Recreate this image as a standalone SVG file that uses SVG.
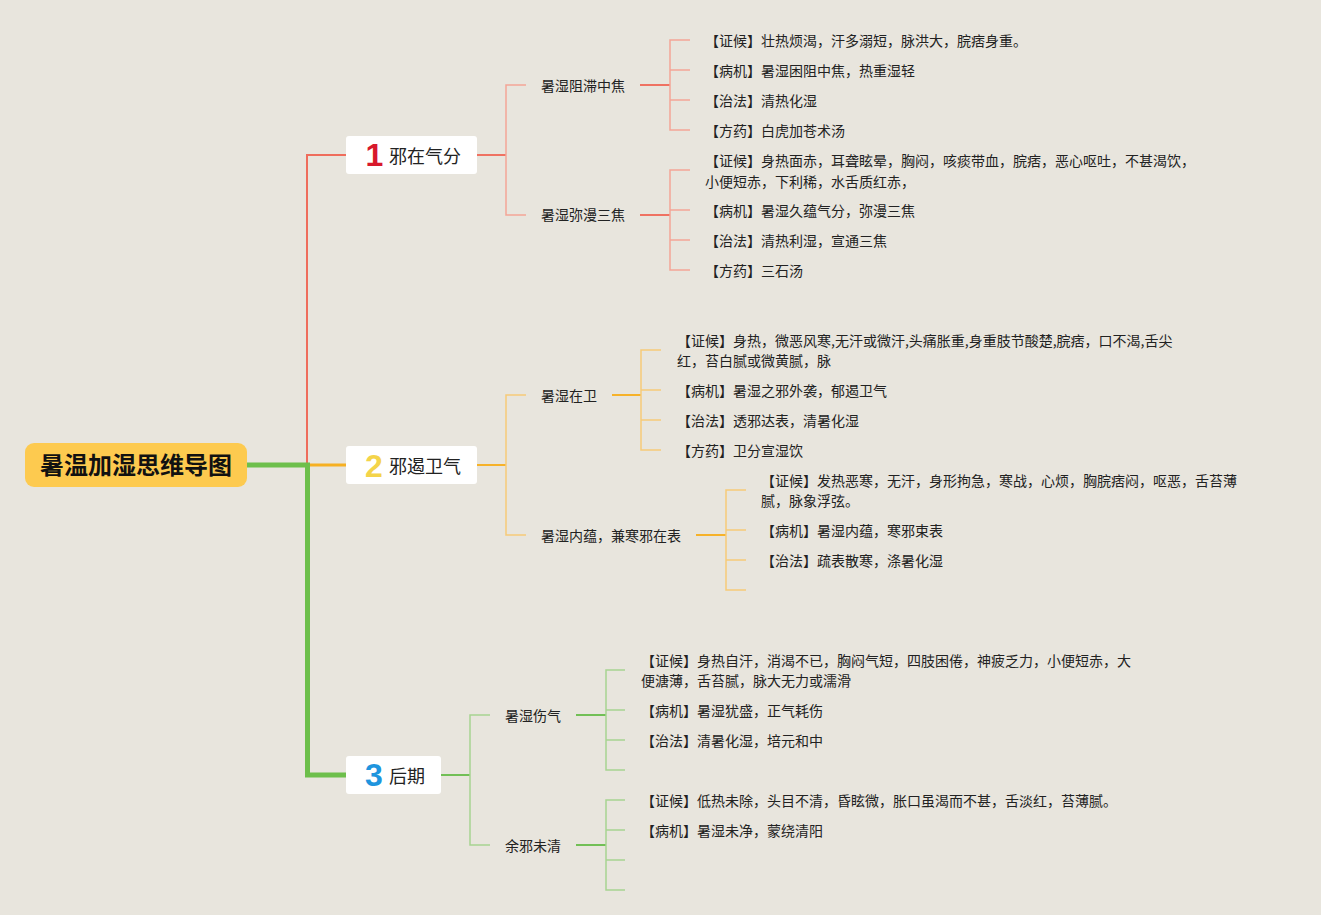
<svg xmlns="http://www.w3.org/2000/svg" width="1321" height="915" viewBox="0 0 1321 915">
<style>
text{font-family:"Noto Sans CJK SC","Noto Sans",sans-serif;fill:#222}
.leaf{font-size:14px}
.sub{font-size:14px}
.main{font-size:18px}
.num{font-family:"Liberation Sans",Arial,sans-serif;font-weight:bold;font-size:32px}
.box{fill:#ffffff}
.c{fill:none;stroke-linecap:butt;stroke-linejoin:miter}
.r1{stroke:#ef7262;stroke-width:2}
.r2{stroke:#f3a596;stroke-width:1.5}
.o1{stroke:#f6b22a;stroke-width:2}
.o2{stroke:#f6ca78;stroke-width:1.5}
.g1{stroke:#72bf56;stroke-width:2}
.g2{stroke:#a6d491;stroke-width:1.5}
</style>
<rect width="1321" height="915" fill="#e8e5dd"/>
<g id="connectors">
<path class="c" d="M307,465 V155 H346" stroke="#ef6d5c" stroke-width="2"/>
<path class="c" d="M307,465 H346" stroke="#f6b022" stroke-width="3"/>
<path class="c" d="M247,465 H307.5 V775 H346" stroke="#6dbf4b" stroke-width="5"/>
<path class="c r1" d="M477,155 H506"/>
<path class="c r2" d="M526,85 H506 V215 H526"/>
<path class="c r1" d="M640,85 H670"/>
<path class="c r2" d="M690,40 H670 V130 H690 M670,70 H690 M670,100 H690"/>
<path class="c r1" d="M640,215 H670"/>
<path class="c r2" d="M690,170 H670 V270 H690 M670,210 H690 M670,240 H690"/>
<path class="c o1" d="M477,465 H506"/>
<path class="c o2" d="M526,395 H506 V535 H526"/>
<path class="c o1" d="M612,395 H641"/>
<path class="c o2" d="M661,350 H641 V450 H661 M641,390 H661 M641,420 H661"/>
<path class="c o1" d="M696,535 H726"/>
<path class="c o2" d="M746,490 H726 V590 H746 M726,530 H746 M726,560 H746"/>
<path class="c g1" d="M441,775 H470"/>
<path class="c g2" d="M490,715 H470 V845 H490"/>
<path class="c g1" d="M576,715 H606"/>
<path class="c g2" d="M625,670 H606 V770 H625 M606,710 H625 M606,740 H625"/>
<path class="c g1" d="M576,845 H606"/>
<path class="c g2" d="M625,800 H606 V890 H625 M606,830 H625 M606,860 H625"/>
</g>
<g id="root">
<rect x="25" y="443" width="222" height="44" rx="9" fill="#fdca4f"/>
<text x="136" y="473.5" text-anchor="middle" style="font-size:24px;font-weight:bold;fill:#111">暑温加湿思维导图</text>
</g>
<g id="topic1">
<rect class="box" x="346" y="136" width="131" height="38" rx="3"/>
<text class="num" x="365.5" y="166" style="fill:#d8192c">1</text>
<text class="main" x="389" y="162.5">邪在气分</text>
</g>
<g id="topic2">
<rect class="box" x="346" y="446" width="131" height="38" rx="3"/>
<text class="num" x="365" y="476.5" style="fill:#f4d44a">2</text>
<text class="main" x="389" y="472.5">邪遏卫气</text>
</g>
<g id="topic3">
<rect class="box" x="346" y="756" width="95" height="38" rx="3"/>
<text class="num" x="365" y="786" style="fill:#1f95de">3</text>
<text class="main" x="389" y="782.5">后期</text>
</g>
<g id="sub1a"><text class="sub" x="541" y="90.5">暑湿阻滞中焦</text></g>
<g id="sub1b"><text class="sub" x="541" y="220">暑湿弥漫三焦</text></g>
<g id="sub2a"><text class="sub" x="541" y="400.5">暑湿在卫</text></g>
<g id="sub2b"><text class="sub" x="541" y="540.5">暑湿内蕴，兼寒邪在表</text></g>
<g id="sub3a"><text class="sub" x="505" y="720.5">暑湿伤气</text></g>
<g id="sub3b"><text class="sub" x="505" y="850.5">余邪未清</text></g>
<g id="leaf1a1"><text class="leaf" x="705" y="45.5">【证候】壮热烦渴，汗多溺短，脉洪大，脘痞身重。</text></g>
<g id="leaf1a2"><text class="leaf" x="705" y="75.5">【病机】暑湿困阻中焦，热重湿轻</text></g>
<g id="leaf1a3"><text class="leaf" x="705" y="105.5">【治法】清热化湿</text></g>
<g id="leaf1a4"><text class="leaf" x="705" y="135.5">【方药】白虎加苍术汤</text></g>
<g id="leaf1b1"><text class="leaf" x="705" y="165.5">【证候】身热面赤，耳聋眩晕，胸闷，咳痰带血，脘痞，恶心呕吐，不甚渴饮，</text><text class="leaf" x="705" y="186.5">小便短赤，下利稀，水舌质红赤，</text></g>
<g id="leaf1b2"><text class="leaf" x="705" y="215.5">【病机】暑湿久蕴气分，弥漫三焦</text></g>
<g id="leaf1b3"><text class="leaf" x="705" y="245.5">【治法】清热利湿，宣通三焦</text></g>
<g id="leaf1b4"><text class="leaf" x="705" y="275.5">【方药】三石汤</text></g>
<g id="leaf2a1"><text class="leaf" x="677" y="345.5">【证候】身热，微恶风寒,无汗或微汗,头痛胀重,身重肢节酸楚,脘痞，口不渴,舌尖</text><text class="leaf" x="677" y="365.5">红，苔白腻或微黄腻，脉</text></g>
<g id="leaf2a2"><text class="leaf" x="677" y="395.5">【病机】暑湿之邪外袭，郁遏卫气</text></g>
<g id="leaf2a3"><text class="leaf" x="677" y="425.5">【治法】透邪达表，清暑化湿</text></g>
<g id="leaf2a4"><text class="leaf" x="677" y="455.5">【方药】卫分宣湿饮</text></g>
<g id="leaf2b1"><text class="leaf" x="761" y="485.5">【证候】发热恶寒，无汗，身形拘急，寒战，心烦，胸脘痞闷，呕恶，舌苔薄</text><text class="leaf" x="761" y="505.5">腻，脉象浮弦。</text></g>
<g id="leaf2b2"><text class="leaf" x="761" y="535.5">【病机】暑湿内蕴，寒邪束表</text></g>
<g id="leaf2b3"><text class="leaf" x="761" y="565.5">【治法】疏表散寒，涤暑化湿</text></g>
<g id="leaf3a1"><text class="leaf" x="641" y="665.5">【证候】身热自汗，消渴不已，胸闷气短，四肢困倦，神疲乏力，小便短赤，大</text><text class="leaf" x="641" y="685.5">便溏薄，舌苔腻，脉大无力或濡滑</text></g>
<g id="leaf3a2"><text class="leaf" x="641" y="715.5">【病机】暑湿犹盛，正气耗伤</text></g>
<g id="leaf3a3"><text class="leaf" x="641" y="745.5">【治法】清暑化湿，培元和中</text></g>
<g id="leaf3b1"><text class="leaf" x="641" y="805.5">【证候】低热未除，头目不清，昏眩微，胀口虽渴而不甚，舌淡红，苔薄腻。</text></g>
<g id="leaf3b2"><text class="leaf" x="641" y="835.5">【病机】暑湿未净，蒙绕清阳</text></g>
</svg>
